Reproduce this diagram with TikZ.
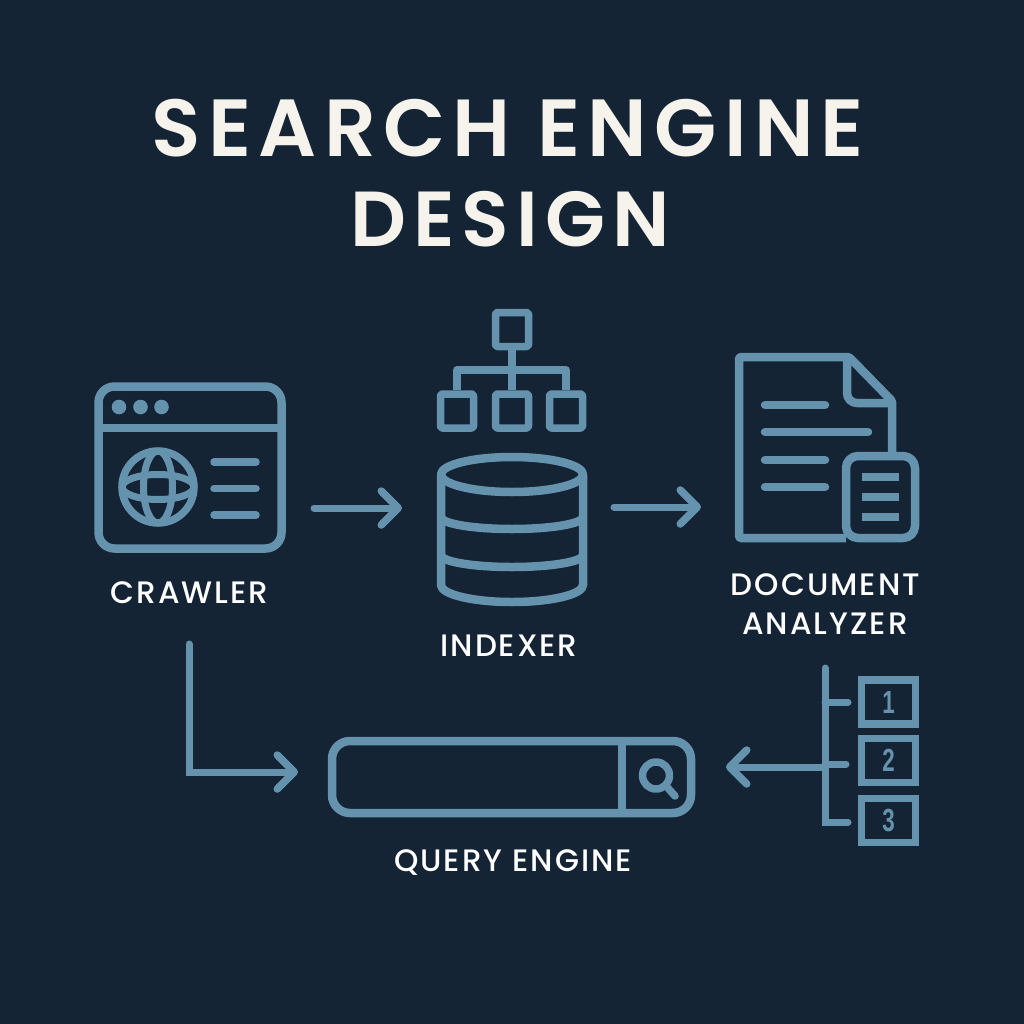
\documentclass[tikz,border=0pt]{standalone}
\usepackage{fontspec}
\usetikzlibrary{arrows.meta}
\newfontfamily\ttlfont[LetterSpace=9]{Poppins SemiBold}
\newfontfamily\labfont[LetterSpace=6.5]{Poppins Medium}
\newfontfamily\numfont{Liberation Sans}
\definecolor{bgc}{HTML}{142435}
\definecolor{ink}{HTML}{6592AC}
\definecolor{ttlc}{HTML}{F6F2EC}
\tikzset{
 ln/.style={draw=ink,line width=8.5pt,line join=round},
 thin ln/.style={draw=ink,line width=7.5pt,line join=round},
 bar/.style={draw=ink,line width=7.5pt,line cap=round},
 solidbar/.style={draw=ink,line width=8pt},
 conn/.style={draw=ink,line width=7pt,line cap=round,line join=miter,-{Straight Barb[length=17pt,width=34pt,round,line width=7.5pt]}},
 ttl/.style={text=ttlc,anchor=base,inner sep=0pt},
 lab/.style={text=white,anchor=base,font=\labfont\fontsize{31}{36}\selectfont,inner sep=0pt},
 sq/.style={thin ln,rectangle,rounded corners=2pt,minimum width=33pt,minimum height=34pt,inner sep=0pt},
 numbox/.style={draw=ink,line width=7.5pt,rectangle,minimum width=54pt,inner sep=0pt},
 num/.style={text=ink,font=\numfont\bfseries\fontsize{32}{34}\selectfont,inner sep=0pt},
}
\begin{document}
\begin{tikzpicture}[x=1pt,y=-1pt]
\fill[bgc] (0,0) rectangle (1024,1024);
\useasboundingbox (0,0) rectangle (1024,1024);
% title
\node[ttl,font=\ttlfont\fontsize{81}{90}\selectfont] (title1) at (508,157) {SEARCH ENGINE};
\node[ttl,font=\ttlfont\fontsize{78}{90}\selectfont] (title2) at (510,246) {DESIGN};
% crawler
\node[ln,rectangle,rounded corners=16pt,minimum width=183pt,minimum height=162pt,inner sep=0pt] (crawler) at (190,467.5) {};
\draw[ln] (98.5,428) -- (281.5,428);
\foreach \x in {119,140.5,161.5} \fill[ink] (\x,407) circle (7.3pt);
\draw[thin ln] (158,487) circle (36pt);
\draw[draw=ink,line width=7pt] (158,487) ellipse (14.5pt and 36pt);
\draw[draw=ink,line width=7pt] (158,487) ellipse (36pt and 12.5pt);
\foreach \y in {462,488.5,515} \draw[bar] (214,\y) -- (256,\y);
\node[lab] (crawlerlab) at (189.5,603) {CRAWLER};
% indexer
\node[sq] (top) at (512,329.5) {};
\node[sq] (c1) at (457,411) {};
\node[sq] (c2) at (512,411) {};
\node[sq] (c3) at (566,411) {};
\coordinate (bus) at (512,370);
\draw[thin ln] (top.south) -- (c2.north);
\draw[thin ln] (c1.north) |- (bus) -| (c3.north);
\draw[ln] (441,474.5) -- (441,585) arc[start angle=180,end angle=360,x radius=71pt,y radius=17pt] -- (583,474.5);
\draw[ln] (512,474.5) ellipse (71pt and 17.5pt);
\draw[ln] (441,517) arc[start angle=180,end angle=360,x radius=71pt,y radius=12pt];
\draw[ln] (441,555) arc[start angle=180,end angle=360,x radius=71pt,y radius=12pt];
\node[lab] (indexerlab) at (509,656) {INDEXER};
% document
\draw[ln,rounded corners=1.5pt] (892,456) -- (892,401) -- (849,357) -- (739,357) -- (739,538) -- (846,538);
\draw[ln,rounded corners=10pt] (847,357) -- (847,403) -- (892,403);
\foreach \y/\e in {405/825,432/868,460/825,487/825} \draw[bar,line width=8.5pt] (765,\y) -- (\e,\y);
\node[ln,rectangle,rounded corners=12pt,minimum width=69pt,minimum height=82pt,inner sep=0pt] (smalldoc) at (880.5,497) {};
\foreach \y in {477,497,517} \draw[solidbar] (862,\y) -- (899,\y);
\node[lab] (doclab1) at (825.5,595) {DOCUMENT};
\node[lab] (doclab2) at (825,634) {ANALYZER};
% query
\node[ln,rectangle,rounded corners=18pt,minimum width=359pt,minimum height=72pt,inner sep=0pt] (query) at (511.5,777) {};
\draw[ln] (query.north -| 622,0) -- (query.south -| 622,0);
\draw[thin ln] (656,775.5) circle (13.5pt);
\draw[bar] (667,787) -- (675,796);
\node[lab] (querylab) at (513,871) {QUERY ENGINE};
% list
\node[numbox,minimum height=44pt] (n1) at (888.5,702) {};
\node[numbox,minimum height=44pt] (n2) at (888.5,760.5) {};
\node[numbox,minimum height=44pt] (n3) at (888.5,820.5) {};
\node[num] (d1) at (n1) {\scalebox{0.7}[1]{1}};
\node[num] (d2) at (n2) {\scalebox{0.7}[1]{2}};
\node[num] (d3) at (n3) {\scalebox{0.7}[1]{3}};
\coordinate (treetop) at (825,668);
\coordinate (b1) at (848,702);
\coordinate (b2) at (846,764);
\coordinate (b3) at (848,822);
\draw[draw=ink,line width=7pt,line cap=round,line join=miter] (treetop) |- (b3);
\draw[draw=ink,line width=7pt,line cap=round] (825,702) -- (b1);
\draw[draw=ink,line width=7pt,line cap=round] (825,764) -- (b2);
% connectors
\coordinate (a1s) at (314,508);
\coordinate (a1e) at (402,508);
\coordinate (a2s) at (614,507);
\coordinate (a2e) at (701,507);
\coordinate (a3s) at (189,644);
\coordinate (a3c) at (189,772);
\coordinate (a3e) at (298,772);
\coordinate (a4s) at (825,767);
\coordinate (a4e) at (726,767);
\draw[conn] (a1s) -- (a1e);
\draw[conn] (a2s) -- (a2e);
\draw[conn] (a3s) -- (a3c) -- (a3e);
\draw[conn] (a4s) -- (a4e);
\end{tikzpicture}
\end{document}
